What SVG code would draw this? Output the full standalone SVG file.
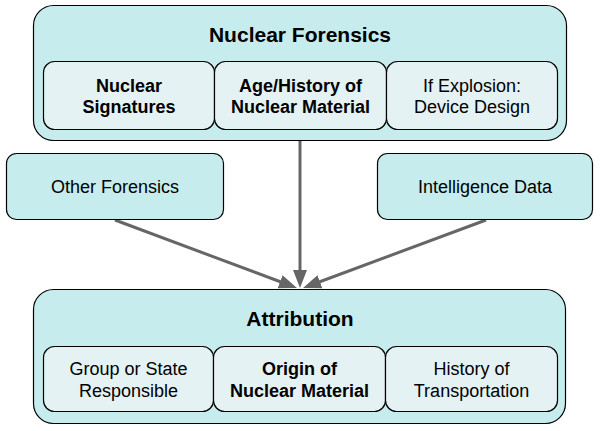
<svg xmlns="http://www.w3.org/2000/svg" width="601" height="431" viewBox="0 0 601 431">
  <style>
    .outer { fill: #c7ecee; stroke: #000; stroke-width: 1.2; }
    .side { fill: #c7ecee; stroke: #000; stroke-width: 1.2; }
    .inner { fill: #e5f2f3; stroke: #000; stroke-width: 1.2; }
    text { font-family: "Liberation Sans", Arial, sans-serif; fill: #000; text-anchor: middle; }
    .title { font-size: 21px; font-weight: bold; }
    .label { font-size: 18px; }
    .bold { font-weight: bold; }
    .conn { stroke: #666; stroke-width: 3; fill: none; marker-end: url(#arrow); }
  </style>
  <defs>
    <marker id="arrow" markerUnits="userSpaceOnUse" markerWidth="18" markerHeight="14" viewBox="0 0 18 14" refX="8" refY="7" orient="auto">
      <path d="M0,0 L18,7 L0,14 z" fill="#666"/>
    </marker>
  </defs>

  <!-- connectors -->
  <g id="connectors">
    <line class="conn" x1="300" y1="140" x2="300" y2="278"/>
    <line class="conn" x1="115" y1="220" x2="287.6" y2="284.5"/>
    <line class="conn" x1="486" y1="220" x2="312.4" y2="284.5"/>
  </g>

  <!-- Nuclear Forensics group -->
  <g id="nuclear-forensics">
    <rect class="outer" x="33.5" y="5.5" width="533" height="135" rx="20"/>
    <text class="title" x="300" y="42">Nuclear Forensics</text>
  </g>
  <g id="nuclear-signatures">
    <rect class="inner" x="43.5" y="61.5" width="171" height="68" rx="11"/>
    <text class="label bold" x="129" y="92">Nuclear</text>
    <text class="label bold" x="129" y="113">Signatures</text>
  </g>
  <g id="age-history">
    <rect class="inner" x="214.5" y="61.5" width="172" height="68" rx="11"/>
    <text class="label bold" x="300.5" y="92">Age/History of</text>
    <text class="label bold" x="300.5" y="113">Nuclear Material</text>
  </g>
  <g id="device-design">
    <rect class="inner" x="386.5" y="61.5" width="171" height="68" rx="11"/>
    <text class="label" x="472" y="92">If Explosion:</text>
    <text class="label" x="472" y="113">Device Design</text>
  </g>

  <!-- side inputs -->
  <g id="other-forensics">
    <rect class="side" x="6.5" y="153.5" width="217" height="66" rx="10"/>
    <text class="label" x="115" y="193">Other Forensics</text>
  </g>
  <g id="intelligence-data">
    <rect class="side" x="377.5" y="153.5" width="215" height="66" rx="10"/>
    <text class="label" x="485" y="193">Intelligence Data</text>
  </g>

  <!-- Attribution group -->
  <g id="attribution">
    <rect class="outer" x="33.5" y="289.5" width="532" height="134" rx="20"/>
    <text class="title" x="300" y="326">Attribution</text>
  </g>
  <g id="group-or-state">
    <rect class="inner" x="43.5" y="346.5" width="170" height="65" rx="11"/>
    <text class="label" x="128.5" y="375">Group or State</text>
    <text class="label" x="128.5" y="397">Responsible</text>
  </g>
  <g id="origin">
    <rect class="inner" x="213.5" y="346.5" width="172" height="65" rx="11"/>
    <text class="label bold" x="299.5" y="375">Origin of</text>
    <text class="label bold" x="299.5" y="397">Nuclear Material</text>
  </g>
  <g id="transportation">
    <rect class="inner" x="385.5" y="346.5" width="172" height="65" rx="11"/>
    <text class="label" x="471.5" y="375">History of</text>
    <text class="label" x="471.5" y="397">Transportation</text>
  </g>
</svg>
